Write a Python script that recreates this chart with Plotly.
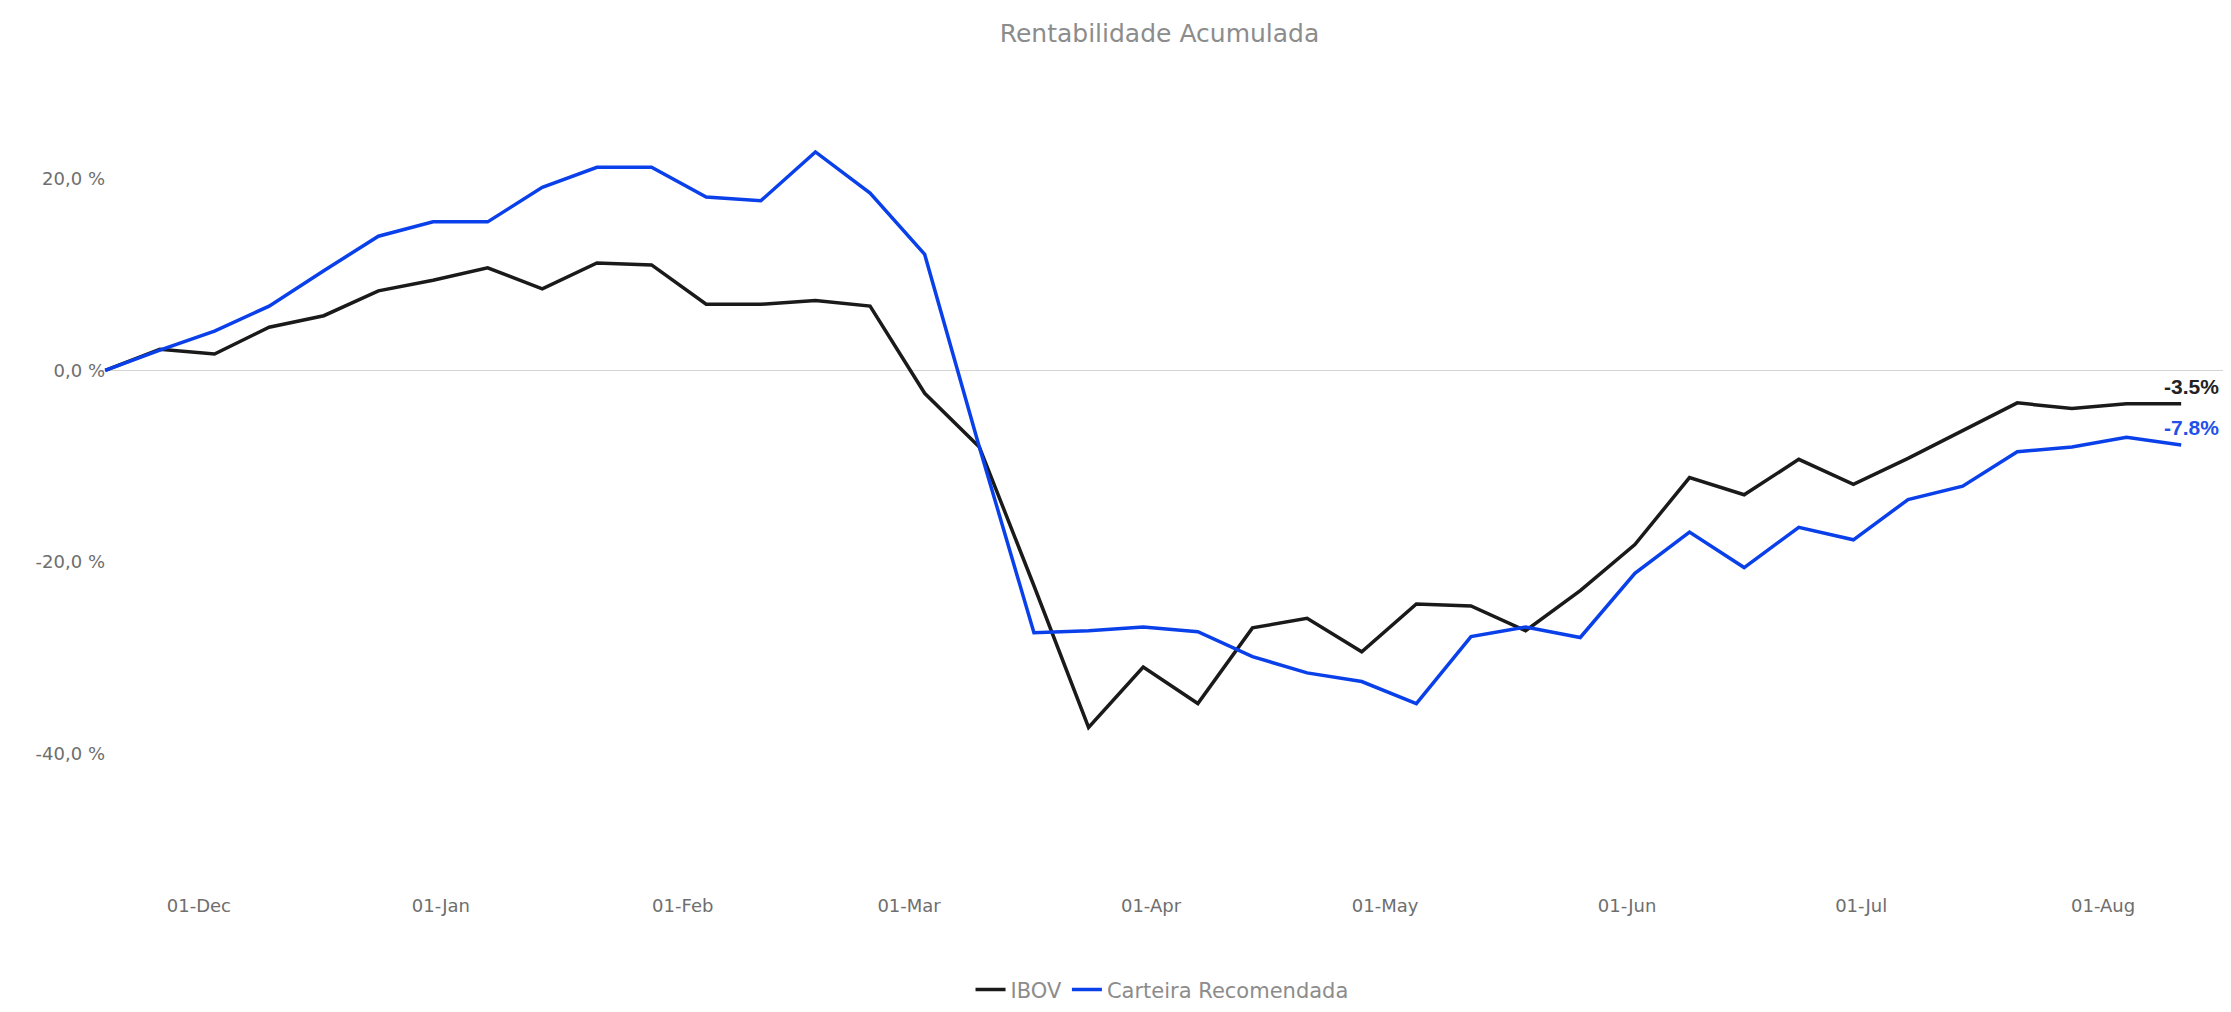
import pandas as pd
import plotly.graph_objects as go

# weekly closes, cumulative return in %
dates = pd.date_range("2019-11-19", periods=39, freq="7D")

ibov = [0.0, 2.2, 1.7, 4.5, 5.7, 8.3, 9.4, 10.7, 8.5, 11.2, 11.0, 6.9, 6.9, 7.3, 6.7,
        -2.4, -8.0, -22.5, -37.3, -31.0, -34.8, -26.9, -25.9, -29.4, -24.4, -24.6,
        -27.2, -23.0, -18.2, -11.2, -13.0, -9.3, -11.9, -9.2, -6.3, -3.4, -4.0, -3.5, -3.5]

carteira = [0.0, 2.1, 4.1, 6.7, 10.4, 14.0, 15.5, 15.5, 19.1, 21.2, 21.2, 18.1, 17.7,
            22.8, 18.5, 12.1, -8.0, -27.4, -27.2, -26.8, -27.3, -29.9, -31.6, -32.5,
            -34.8, -27.8, -26.8, -27.9, -21.2, -16.9, -20.6, -16.4, -17.7, -13.5, -12.1,
            -8.5, -8.0, -7.0, -7.8]

series_names = ["IBOV", "Carteira Recomendada"]
series_colors = ["#1a1a1a", "#0a40ea"]
label_colors = ["#222222", "#2250e8"]

ytick_vals = [-40, -20, 0, 20]
ytick_text = ["-40,0 %", "-20,0 %", "0,0 %", "20,0 %"]

FONT = "DejaVu Sans"
GREY = "#8c8c8c"
TICK_GREY = "#6e6e6e"

fig = go.Figure()
for name, vals, col in zip(series_names, [ibov, carteira], series_colors):
    fig.add_trace(go.Scatter(x=dates, y=vals, mode="lines", name=name,
                             line=dict(color=col, width=3.5)))

# end-of-series labels
for vals, col in zip([ibov, carteira], label_colors):
    fig.add_annotation(x=dates[-1], y=vals[-1], text=f"{vals[-1]:.1f}%",
                       showarrow=False, xanchor="right", xshift=40, yshift=17,
                       font=dict(family="Liberation Sans", size=21, color=col, weight="bold"))

# page body adds an 8px offset, so the figure is 8px smaller than the window
fig.update_layout(
    width=2223, height=1004,
    title=dict(text="Rentabilidade Acumulada", x=0.518, xanchor="center",
               y=0.975, yanchor="middle", font=dict(family=FONT, size=25, color=GREY)),
    paper_bgcolor="white", plot_bgcolor="white",
    font=dict(family=FONT, color=TICK_GREY, size=16),
    showlegend=True,
    legend=dict(orientation="h", x=0.4986, xanchor="center", y=-0.114, yanchor="middle",
                font=dict(family=FONT, size=21, color=GREY)),
    margin=dict(l=94, r=3, t=75, b=115, autoexpand=False),
    xaxis=dict(range=["2019-11-18 14:00", "2020-08-17"], showgrid=False, zeroline=False,
               showline=False, tickformat="%d-%b", dtick="M1", tick0="2019-12-01",
               automargin=False, ticklabelstandoff=-4,
               tickfont=dict(size=18, color=TICK_GREY)),
    yaxis=dict(range=[-55, 30], tickvals=ytick_vals, ticktext=ytick_text,
               showgrid=False, zeroline=True, zerolinecolor="#d4d4d4", zerolinewidth=1,
               showline=False, automargin=False, ticklabelstandoff=-4,
               tickfont=dict(size=18, color=TICK_GREY)),
)

fig.write_html("out.html")
